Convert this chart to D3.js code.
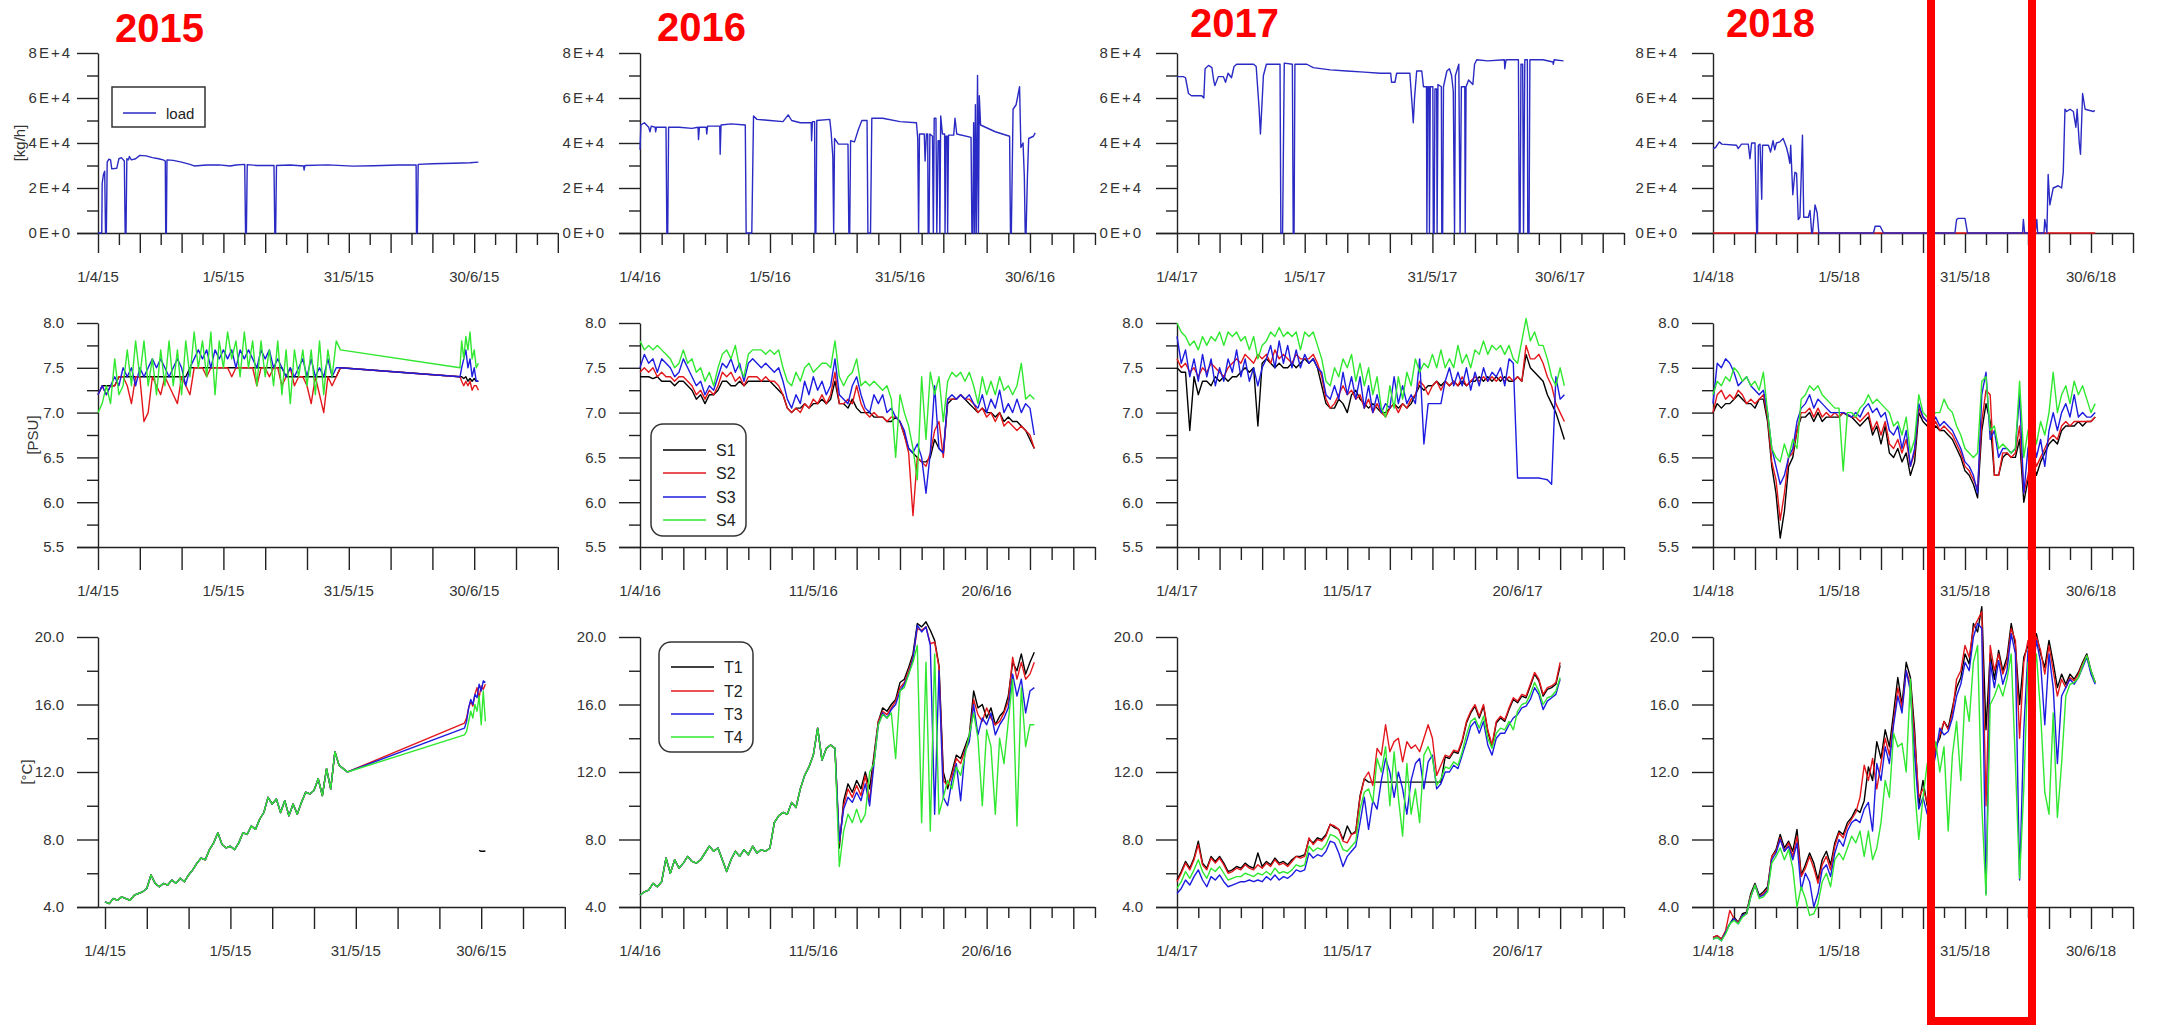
<!DOCTYPE html>
<html>
<head>
<meta charset="utf-8">
<script src="https://cdn.jsdelivr.net/npm/d3@7"></script>
<style>
  body { margin: 0; background: #fff; }
  text { font-family: "Liberation Sans", Arial, sans-serif; }
</style>
</head>
<body>
<script>
/* ---------- data: days counted from 1 April of each year ---------- */

const dailyDays = [0,1,2,3,4,5,6,7,8,9,10,11,12,13,14,15,16,17,18,19,20,21,22,23,24,25,26,27,28,29,
  30,31,32,33,34,35,36,37,38,39,40,41,42,43,44,45,46,47,48,49,50,51,52,53,54,55,56,57,58,59,
  60,61,62,63,64,65,66,67,68,69,70,71,72,73,74,75,76,77,78,79,80,81,82,83,84,85,86,87,88,89,90,91];

const longTicks = [0,10,20,30,40,50,60,70,80,90,100,110];
const shortTicks = [5,15,25,35,45,55,65,75,85,95,105];

const loadTickLabels = ["0E+0","2E+4","4E+4","6E+4","8E+4"];
const labels2015 = ["1/4/15","1/5/15","31/5/15","30/6/15"];
const labels2016 = ["1/4/16","1/5/16","31/5/16","30/6/16"];
const labels2016b = ["1/4/16","11/5/16","20/6/16"];
const labels2017 = ["1/4/17","1/5/17","31/5/17","30/6/17"];
const labels2017b = ["1/4/17","11/5/17","20/6/17"];
const labels2018 = ["1/4/18","1/5/18","31/5/18","30/6/18"];
const monthDays = [0,30,60,90];
const fortyDays = [0,40,80];

/* load [day, kg/h] */
const load2015 = [[0,0],[0.9,0],[1.0,22000],[1.3,26000],[1.6,27500],[1.8,0],[2.0,0],[2.2,31500],[2.6,32800],[3.0,32500],
  [3.3,28500],[4.5,28800],[5.0,33000],[5.6,33500],[6.3,32000],[6.5,0],[6.7,0],[6.9,33000],[7.3,32500],[7.5,34000],
  [8.0,32500],[9.0,33000],[10.0,34500],[11.5,34300],[13,33500],[14.5,33000],[15.6,32500],[16.1,32000],[16.2,0],[16.35,0],
  [16.5,32500],[18,32300],[20,31500],[22,30500],[23,29800],[26,30200],[29,30300],[31.6,29800],[33,30200],[35.1,30500],
  [35.3,0],[35.5,0],[35.7,30400],[38,30000],[42.1,30000],[42.3,0],[42.5,0],[42.7,30000],[46,30200],[49.2,29800],
  [49.3,28000],[49.5,30000],[55,30300],[61,29700],[66,29900],[72,30200],[76.1,30200],[76.2,0],[76.4,0],[76.6,30500],
  [80,30800],[85,31000],[89,31200],[91,31500]];

const load2016 = [[0,37000],[0.2,48000],[1,49000],[2,47000],[2.3,45000],[2.6,47500],[3.5,47000],[3.6,45000],[3.8,47000],[6.0,47000],
  [6.2,0],[6.4,0],[6.6,47000],[9,47000],[12,46500],[13.4,47000],[13.5,41500],[13.7,47000],[15.3,47000],[15.4,44000],
  [15.6,47500],[18.4,47500],[18.5,35000],[18.7,48000],[21,48500],[24.3,48000],[24.5,0],[25.8,0],[26.2,52000],[27,50500],
  [30,50000],[33,49500],[34.2,52500],[35,50000],[37,49000],[39.5,49000],[39.6,41000],[39.8,49500],[40.3,49500],[40.4,0],
  [40.6,0],[40.8,50000],[43.8,50500],[44.1,45000],[44.5,34000],[44.7,0],[44.9,42000],[45.8,39500],[48.0,39500],[48.2,0],
  [48.4,0],[48.6,41000],[49.5,40500],[50.4,46000],[51.2,50000],[52.4,50000],[52.6,0],[53.2,0],[53.5,51000],[56,51000],
  [60,49500],[63.8,49000],[64.1,42000],[64.3,0],[64.5,44000],[65.6,44000],[65.8,32000],[66.1,44000],[66.4,44000],[66.5,0],
  [66.7,0],[66.9,44000],[67.5,43000],[67.7,0],[67.9,51000],[68.3,51000],[68.5,0],[68.8,41000],[69.1,41000],[69.2,0],
  [69.4,52000],[69.8,44000],[70.3,44000],[70.4,0],[70.6,43000],[70.9,43000],[71.0,0],[71.2,43500],[72.4,43500],[72.7,51000],
  [73.1,44000],[76.4,42500],[76.6,0],[76.8,0],[77.0,49000],[77.2,0],[77.4,57000],[77.6,0],[77.9,70000],[78.1,0],
  [78.3,61000],[78.6,48000],[82,45000],[85.3,43000],[85.5,0],[85.7,0],[86.1,55000],[86.8,57000],[87.6,65000],[87.9,38000],
  [88.4,40000],[88.7,25000],[88.9,0],[89.1,0],[89.4,24000],[89.7,42000],[90.8,43000],[91.2,44500]];

const load2017 = [[0,69500],[1.5,69500],[2,69000],[2.7,62000],[3.4,61000],[5.8,61000],[6.3,60000],[6.6,73000],[7.4,74500],[8.2,73500],
  [8.6,68000],[8.9,65500],[9.7,69500],[10.9,69500],[11.4,67000],[12,71000],[12.8,69000],[13.4,74000],[14,75000],[18,75000],
  [18.6,74000],[19.3,55000],[19.6,44000],[19.9,55000],[20.3,70000],[21,75000],[24.2,75000],[24.4,0],[24.8,0],[25.2,75500],
  [27.1,75000],[27.3,0],[27.5,0],[27.7,75000],[30.5,75000],[32,73500],[36,72500],[39.9,72000],[44,71500],[47.7,71000],
  [50.2,71000],[50.4,67000],[51.2,67000],[51.6,71000],[54.7,71000],[55.3,55000],[55.5,49000],[55.8,60000],[56.3,72000],[57.5,72000],
  [57.9,65000],[58.6,65000],[58.7,0],[58.9,65000],[59.2,65000],[59.3,0],[59.5,65000],[60.1,65000],[60.2,0],[60.4,0],
  [60.6,64000],[61.0,64000],[61.1,0],[61.3,66000],[62.1,65000],[62.2,0],[62.4,0],[62.6,65000],[63.4,72000],[64.0,73000],
  [64.5,70000],[64.9,63000],[65.2,0],[65.4,70000],[66.2,75000],[66.5,0],[66.8,65000],[67.6,65000],[67.7,0],[67.9,65000],
  [68.5,68000],[69.5,66000],[69.9,75000],[70.4,77000],[73,76500],[76.9,77000],[77.0,73000],[77.3,77000],[80.2,77000],[80.4,0],
  [80.6,0],[80.8,75000],[81.2,75000],[81.4,0],[81.7,77000],[82.3,77000],[82.4,0],[82.7,0],[82.9,77000],[86,77000],
  [88.3,76000],[88.4,75000],[88.6,77000],[90.8,76500]];

const load2018 = [[0,37500],[0.6,38000],[1.5,40500],[2.1,39500],[5.6,39000],[6.0,37500],[6.8,39500],[8.4,39500],[8.8,33000],[9.2,40000],
  [10.0,40000],[10.4,0],[10.6,0],[10.8,39000],[11.2,39500],[11.6,15000],[11.8,39000],[13.2,39000],[13.7,36000],[14.3,41000],
  [14.7,37000],[15.1,40000],[15.9,40500],[16.7,42000],[17.5,38000],[17.9,35000],[18.3,31000],[18.5,39000],[19.0,17000],[19.5,27000],
  [19.9,26500],[20.3,6000],[20.7,7000],[21.3,43500],[21.6,7000],[22.7,7000],[23.1,10000],[23.5,0],[23.7,0],[24.3,12500],
  [24.8,9000],[25.2,0],[38.2,0],[38.6,3000],[39.8,3000],[40.6,0],[57.6,0],[58.0,6000],[58.4,6500],[60.0,6500],
  [60.6,0],[73.7,0],[73.9,6000],[74.2,0],[76.7,0],[77.1,6000],[77.3,0],[78.8,0],[79.0,6000],[79.5,0],
  [79.8,26000],[80.2,12500],[81.0,20000],[82.2,21000],[83.0,20000],[83.4,27000],[83.8,55000],[84.2,54000],[85.0,55000],[85.8,54000],
  [86.4,47000],[86.7,55000],[87.2,40000],[87.5,35000],[88.0,62000],[88.6,55000],[90.6,54000],[90.9,54500]];
const loadZero2018 = [[0,0],[91,0]];

/* 2015 salinity: days 0-58, gap, then 86.6-91 */
const psuDays2015 = dailyDays.slice(0, 59).concat([86.6,87,87.5,88,88.5,89,89.5,90,90.5,91]);
const s1_2015 = [7.2,7.3,7.3,7.3,7.3,7.4,7.4,7.4,7.4,7.4, 7.4,7.4,7.4,7.4,7.4,7.4,7.4,7.4,7.4,7.4,
  7.4,7.4,7.5,7.5,7.5,7.5,7.5,7.5,7.5,7.5, 7.5,7.5,7.5,7.5,7.5,7.5,7.5,7.5,7.5,7.5,
  7.5,7.5,7.5,7.5,7.5,7.4,7.4,7.4,7.4,7.4, 7.4,7.4,7.4,7.4,7.4,7.4,7.4,7.4,7.5,
  7.4,7.4,7.38,7.4,7.35,7.38,7.35,7.38,7.35,7.35];
const s2_2015 = [7.2,7.3,7.2,7.3,7.3,7.4,7.4,7.3,7.1,7.4, 7.4,6.9,7.0,7.4,7.3,7.2,7.4,7.3,7.2,7.1,
  7.4,7.3,7.2,7.5,7.5,7.5,7.4,7.5,7.5,7.5, 7.5,7.5,7.4,7.5,7.5,7.5,7.5,7.5,7.3,7.5,
  7.5,7.4,7.5,7.5,7.3,7.4,7.5,7.3,7.4,7.4, 7.3,7.1,7.4,7.2,7.0,7.4,7.3,7.4,7.5,
  7.4,7.35,7.3,7.35,7.3,7.35,7.25,7.3,7.3,7.25];
const s3_2015 = [7.2,7.3,7.2,7.3,7.4,7.3,7.5,7.4,7.5,7.3, 7.5,7.4,7.5,7.6,7.5,7.6,7.5,7.4,7.5,7.6,
  7.5,7.3,7.5,7.6,7.7,7.6,7.7,7.5,7.7,7.6, 7.7,7.6,7.7,7.5,7.7,7.6,7.7,7.6,7.5,7.7,
  7.6,7.7,7.5,7.6,7.5,7.4,7.5,7.4,7.5,7.6, 7.4,7.6,7.4,7.5,7.4,7.6,7.4,7.5,7.5,
  7.4,7.5,7.6,7.7,7.5,7.6,7.4,7.5,7.35,7.35];
const s4_2015 = [7.0,7.1,7.3,7.1,7.6,7.2,7.3,7.7,7.3,7.8, 7.4,7.8,7.3,7.6,7.2,7.7,7.3,7.8,7.3,7.7,
  7.2,7.8,7.4,7.9,7.5,7.8,7.4,7.9,7.2,7.8, 7.5,7.9,7.6,7.8,7.4,7.9,7.5,7.8,7.3,7.8,
  7.4,7.7,7.3,7.8,7.2,7.7,7.1,7.7,7.4,7.7, 7.3,7.7,7.2,7.8,7.2,7.7,7.4,7.8,7.7,
  7.5,7.8,7.6,7.85,7.7,7.9,7.6,7.7,7.5,7.55];

/* 2015 temperature: shared trace until day 58, then separate ends */
const tDays2015 = dailyDays.slice(0, 59).concat([86,86.5,87,87.5,88,88.5,89,89.5,90,90.5,91]);
const tShared2015 = [4.3,4.2,4.5,4.4,4.6,4.5,4.4,4.7,4.8,4.9, 5.1,5.9,5.4,5.2,5.4,5.3,5.6,5.4,5.7,5.5,
  5.9,6.2,6.6,6.9,6.8,7.4,7.8,8.4,7.7,7.5, 7.6,7.4,7.8,8.4,8.3,8.8,8.6,9.2,9.6,10.5,
  10.1,10.4,9.6,10.3,9.4,10.1,9.5,10.2,10.8,10.7, 10.9,11.6,10.6,12.2,11.0,13.2,12.4,12.2,12.0];
const t1End2015 = [null,null,null,null,null,null,null,7.35,7.3,7.3,7.32];
const t2End2015 = [14.9,15.2,15.8,16.2,15.9,16.6,17.0,16.4,17.1,16.9,17.2];
const t3End2015 = [14.6,15.0,15.8,16.3,16.0,16.6,16.4,17.2,16.8,17.4,17.3];
const t4End2015 = [14.2,14.4,15.0,15.6,15.2,16.0,15.6,16.5,14.8,16.8,15.0];

/* 2016 salinity, daily */
const s1_2016 = [7.4,7.4,7.4,7.38,7.4,7.35,7.35,7.35,7.3,7.35, 7.35,7.3,7.25,7.15,7.2,7.1,7.2,7.2,7.25,7.35,
  7.35,7.3,7.3,7.35,7.3,7.35,7.35,7.35,7.35,7.35, 7.35,7.3,7.25,7.2,7.05,7.0,7.05,7.05,7.1,7.05,
  7.1,7.1,7.15,7.1,7.15,7.35,7.1,7.1,7.05,7.15, 7.05,7.0,7.0,7.0,6.95,6.95,6.95,6.9,6.9,
  6.95,6.9,6.75,6.6,6.55,6.5,6.45,6.45,6.5,6.7,6.6,6.55,7.1,7.15,
  7.15,7.2,7.15,7.1,7.05,7.0,7.05,7.0,7.0,6.95,7.0,6.9,6.95,6.9,6.9,6.85,6.8,6.7,6.6];
const s2_2016 = [7.45,7.5,7.45,7.5,7.4,7.45,7.4,7.4,7.35,7.4, 7.4,7.35,7.3,7.2,7.25,7.15,7.25,7.2,7.3,7.45,
  7.4,7.45,7.35,7.4,7.3,7.4,7.4,7.4,7.35,7.4, 7.35,7.35,7.3,7.2,7.05,7.0,7.05,7.0,7.1,7.05,
  7.15,7.1,7.2,7.1,7.2,7.45,7.1,7.1,7.15,7.1, 7.3,7.1,7.0,6.95,7.0,6.95,6.95,6.9,6.95,
  6.95,6.9,6.75,6.55,5.85,6.5,6.45,6.4,6.55,6.8,6.9,6.5,7.15,7.15,
  7.15,7.2,7.15,7.15,7.1,7.0,7.05,6.95,7.0,6.9,7.0,6.85,6.9,6.85,6.8,6.85,6.8,6.75,6.6];
const s3_2016 = [7.5,7.65,7.55,7.6,7.45,7.6,7.55,7.5,7.4,7.45, 7.6,7.5,7.4,7.3,7.35,7.2,7.3,7.25,7.4,7.55,
  7.5,7.6,7.45,7.55,7.35,7.55,7.6,7.55,7.5,7.55, 7.5,7.45,7.5,7.35,7.15,7.05,7.2,7.1,7.35,7.2,
  7.4,7.25,7.35,7.2,7.3,7.6,7.2,7.15,7.1,7.3, 7.4,7.2,7.05,7.0,7.2,7.1,7.2,7.0,7.05,
  6.95,6.9,6.8,6.6,6.55,6.65,6.5,6.1,6.55,7.3,6.6,6.55,7.15,7.2,
  7.15,7.2,7.15,7.2,7.1,7.05,7.2,7.0,7.15,7.05,7.25,7.0,7.1,7.0,7.15,7.0,7.1,7.05,6.75];
const s4_2016 = [7.8,7.7,7.75,7.7,7.75,7.7,7.65,7.6,7.5,7.55, 7.7,7.55,7.6,7.45,7.5,7.35,7.45,7.3,7.5,7.65,
  7.7,7.6,7.75,7.5,7.4,7.65,7.7,7.7,7.7,7.65, 7.7,7.65,7.7,7.5,7.35,7.3,7.45,7.35,7.5,7.55,
  7.45,7.5,7.55,7.55,7.5,7.8,7.4,7.3,7.4,7.45, 7.6,7.3,7.35,7.3,7.35,7.3,7.25,7.3,7.15,
  6.5,7.2,7.0,6.85,6.6,6.25,7.4,6.7,7.45,7.2,7.4,6.9,7.35,7.45,
  7.4,7.45,7.35,7.45,7.3,7.1,7.4,7.2,7.35,7.2,7.4,7.25,7.3,7.2,7.3,7.55,7.15,7.2,7.15];

/* 2016 temperature: shared trace days 0-45, then separate days 46-91 */
const tShared2016 = [4.7,4.9,5.0,5.4,5.2,5.5,6.9,6.0,6.8,6.3, 6.6,7.0,6.7,6.6,6.8,7.2,7.6,7.3,7.5,6.8,
  6.1,6.8,7.3,7.0,7.4,7.1,7.6,7.2,7.4,7.3, 7.5,9.0,9.4,9.6,9.5,10.2,9.9,11.0,11.8,12.3,
  13.0,14.6,12.7,13.4,13.6,13.4];
const t1End2016 = [7.5,10.3,11.3,10.8,11.5,11.0,12.0,11.0,13.0,15.0, 15.8,15.6,16.0,16.3,17.3,17.5,18.2,19.0,20.8,20.6,
  20.9,20.4,19.8,18.3,12.0,11.0,12.0,13.0,12.8,13.5, 14.2,16.8,15.8,16.0,15.2,15.8,14.8,15.3,15.6,16.5,
  18.5,18.0,19.0,17.8,18.5,19.1];
const t2End2016 = [7.8,10.0,11.0,10.5,11.2,10.6,11.8,10.3,12.8,15.0, 15.6,15.4,15.8,16.2,17.0,17.3,18.0,18.8,20.5,20.4,
  20.6,19.6,19.7,18.2,11.5,11.2,11.8,12.8,12.5,13.3, 14.0,16.3,15.4,15.0,15.8,15.2,14.8,15.0,15.5,16.2,
  18.8,17.5,18.5,17.5,17.8,18.5];
const t3End2016 = [7.9,9.8,10.5,10.2,10.8,10.3,11.3,10.0,12.5,14.8, 15.5,15.2,15.7,16.0,16.8,17.2,17.8,18.7,20.7,20.3,
  20.6,19.5,9.5,18.0,10.5,10.0,11.5,12.5,10.3,13.2, 13.8,16.0,14.2,15.2,14.8,15.5,14.2,14.8,15.2,15.8,
  17.8,16.5,17.5,15.5,16.8,17.0];
const t4End2016 = [6.4,8.5,9.5,9.0,9.8,9.0,9.5,12.0,12.5,14.8, 15.4,15.2,15.5,12.8,16.8,17.0,17.8,18.5,19.5,9.0,
  18.5,8.5,19.0,9.5,10.5,11.5,11.0,12.3,11.8,13.0, 14.2,15.5,14.0,10.0,14.5,13.5,9.5,14.0,12.5,15.0,
  17.5,8.8,17.0,13.5,14.8,14.8];

/* 2017 salinity, daily */
const s1_2017 = [7.5,7.45,7.45,6.8,7.4,7.2,7.35,7.35,7.3,7.4, 7.35,7.4,7.35,7.4,7.4,7.45,7.5,7.45,7.5,6.85,
  7.55,7.6,7.55,7.5,7.55,7.5,7.5,7.55,7.5,7.55, 7.6,7.55,7.6,7.5,7.3,7.1,7.05,7.05,7.15,7.1,
  7.0,7.2,7.25,7.15,7.1,7.05,7.1,7.05,7.0,7.0, 7.05,7.1,7.05,7.1,7.05,7.1,7.2,7.3,7.25,7.3,
  7.3,7.35,7.3,7.35,7.3,7.35,7.3,7.35,7.3,7.35, 7.35,7.4,7.35,7.4,7.35,7.4,7.35,7.4,7.35,7.35,
  7.4,7.35,7.65,7.5,7.45,7.4,7.35,7.2,7.1,7.0,6.85,6.7];
const s2_2017 = [7.6,7.5,7.55,7.45,7.5,7.4,7.5,7.45,7.55,7.5, 7.45,7.4,7.5,7.55,7.6,7.55,7.65,7.6,7.55,7.65,
  7.6,7.65,7.55,7.7,7.6,7.65,7.6,7.55,7.65,7.6, 7.6,7.6,7.65,7.55,7.4,7.15,7.05,7.1,7.2,7.3,
  7.2,7.25,7.15,7.2,7.05,7.15,7.0,7.1,7.0,6.95, 7.05,7.1,7.0,7.1,7.05,7.15,7.2,7.35,7.3,7.2,
  7.3,7.35,7.25,7.35,7.3,7.35,7.3,7.4,7.3,7.35, 7.4,7.35,7.4,7.35,7.4,7.35,7.4,7.35,7.4,7.35,
  7.4,7.35,7.75,7.6,7.6,7.65,7.55,7.4,7.3,7.1,7.0,6.9];
const s3_2017 = [7.85,7.55,7.7,7.4,7.6,7.35,7.65,7.4,7.6,7.3, 7.5,7.35,7.6,7.45,7.7,7.4,7.6,7.35,7.5,7.3,
  7.5,7.6,7.75,7.5,7.8,7.55,7.75,7.5,7.7,7.5, 7.65,7.55,7.6,7.5,7.45,7.2,7.15,7.3,7.15,7.45,
  7.2,7.4,7.15,7.4,7.05,7.3,7.0,7.2,7.0,7.1, 7.05,7.4,7.1,7.3,7.1,7.2,7.1,7.6,6.65,7.1,
  7.1,7.1,7.1,7.35,7.5,7.3,7.45,7.3,7.5,7.25, 7.45,7.3,7.5,7.35,7.45,7.4,7.5,7.3,7.6,7.55,
  6.27,6.27,6.27,6.27,6.27,6.27,6.26,6.25,6.2,7.4,7.15,7.2];
const s4_2017 = [8.0,7.9,7.85,7.75,7.8,7.7,7.85,7.75,7.85,7.8, 7.9,7.75,7.9,7.85,7.9,7.8,7.85,7.7,7.85,7.6,
  7.75,7.8,7.9,7.85,7.95,7.85,7.9,7.85,7.9,7.7, 7.9,7.85,7.9,7.75,7.6,7.35,7.3,7.5,7.4,7.6,
  7.5,7.65,7.35,7.55,7.3,7.5,7.2,7.4,7.05,6.95, 7.3,7.05,7.4,7.15,7.45,7.3,7.6,7.45,7.55,7.5,
  7.65,7.5,7.7,7.5,7.6,7.5,7.75,7.55,7.65,7.5, 7.7,7.65,7.8,7.65,7.75,7.7,7.75,7.65,7.75,7.6,
  7.55,7.8,8.05,7.8,7.9,7.75,7.75,7.6,7.4,7.3,7.5,7.3];

/* 2017 temperature, daily to day 90 */
const t1_2017 = [5.6,6.1,6.7,6.3,6.9,7.9,6.6,6.3,7.0,6.7, 7.0,6.6,6.1,6.2,6.4,6.3,6.6,6.4,6.3,7.2,
  6.4,6.7,6.5,6.9,6.6,6.7,6.5,6.8,7.0,7.0, 7.1,8.0,7.8,8.1,8.0,8.3,8.9,8.7,8.6,8.0,
  8.8,8.3,8.5,10.6,11.6,11.4,11.4,11.4,11.4,11.4, 11.4,11.4,11.4,11.4,11.4,11.4,11.4,11.4,11.4,11.4,
  11.4,11.4,11.4,12.9,12.8,13.2,13.1,13.8,14.9,15.5, 15.9,15.2,15.9,14.4,13.5,14.9,15.2,15.0,15.7,16.3,
  16.1,16.5,16.4,17.1,17.8,17.4,16.5,16.9,17.0,17.2,18.3];
const t2_2017 = [5.5,6.0,6.6,6.2,6.8,7.7,6.5,6.2,6.9,6.6, 6.9,6.5,6.0,6.1,6.3,6.2,6.5,6.3,6.2,6.5,
  6.3,6.6,6.4,6.8,6.5,6.6,6.4,6.7,7.0,6.9, 7.0,8.1,7.7,8.0,7.9,8.2,8.9,8.8,8.6,7.9,
  7.8,8.3,8.4,10.5,11.6,12.0,11.2,13.4,13.0,14.8, 13.2,13.8,14.0,12.6,13.8,13.4,13.6,13.2,14.0,14.8,
  14.0,11.8,12.4,13.0,12.9,13.3,13.2,13.9,15.0,15.6, 16.0,15.3,16.0,14.5,13.6,15.0,15.3,15.1,15.8,16.4,
  16.2,16.6,16.5,17.2,17.9,17.5,16.6,17.0,17.1,17.3,18.5];
const t3_2017 = [4.8,5.1,5.6,5.3,5.8,6.2,5.6,5.2,5.8,5.6, 5.9,5.5,5.2,5.3,5.4,5.5,5.5,5.6,5.5,5.6,
  5.5,5.8,5.6,5.9,5.6,5.8,5.7,5.9,6.2,6.1, 6.2,7.2,6.9,7.1,7.0,7.3,7.9,7.8,7.2,6.4,
  7.0,7.3,7.6,9.0,10.5,8.6,10.3,9.8,11.5,12.8, 12.0,10.5,12.0,11.0,9.5,11.5,12.5,12.8,11.0,12.6,
  13.0,11.0,11.3,12.0,12.0,12.4,12.2,13.0,13.8,14.7, 15.0,14.3,15.0,13.6,13.0,14.0,14.3,14.3,14.8,15.2,
  15.4,15.8,15.9,16.3,17.0,16.6,15.7,16.2,16.4,16.6,17.5];
const t4_2017 = [5.1,5.5,6.1,5.7,6.2,6.8,6.1,5.7,6.3,6.1, 6.4,6.0,5.6,5.7,5.8,5.8,6.0,5.9,5.8,6.0,
  5.9,6.1,5.9,6.3,6.0,6.1,6.0,6.2,6.5,6.4, 6.5,7.6,7.3,7.5,7.4,7.7,8.3,8.2,8.0,7.4,
  7.3,7.6,7.9,9.8,10.8,11.0,10.2,12.8,12.0,13.5, 10.0,13.2,10.5,8.2,12.5,9.5,11.0,9.0,13.0,13.5,
  12.8,11.2,11.6,12.3,12.2,12.6,12.4,13.2,14.2,15.0, 15.2,14.6,15.3,14.0,13.4,14.3,14.6,14.5,15.0,14.5,
  15.6,16.0,16.1,16.6,17.3,16.8,16.0,16.4,16.5,16.8,17.6];

/* 2018 salinity, daily */
const s1_2018 = [7.0,7.1,7.05,7.1,7.1,7.15,7.2,7.15,7.1,7.1,7.05,7.15,7.15,
  6.9,6.4,6.1,5.6,5.9,6.4,6.5,6.8,6.95,
  6.95,7.0,6.9,7.0,6.9,6.95,6.95,6.95,6.95,7.0,6.97,6.95,6.9,6.85,6.9,6.95,6.75,6.85,6.65,6.85,6.55,6.5,6.6,6.45,6.55,6.3,6.45,7.0,6.9,
  6.85,6.8,6.85,6.8,6.8,6.75,6.7,6.6,6.5,6.35,6.3,6.2,6.05,6.8,7.1,6.9,6.3,6.3,6.5,6.55,6.5,6.5,6.7,6.0,6.25,6.5,6.3,6.45,6.55,6.65,6.7,6.65,6.8,6.85,6.85,6.85,6.9,6.85,6.9,6.9,6.95];
const s2_2018 = [7.0,7.2,7.25,7.15,7.2,7.15,7.25,7.2,7.1,7.15,7.1,7.15,7.2,
  6.95,6.45,6.25,5.8,6.1,6.5,6.55,6.8,7.0,
  7.0,7.05,6.95,7.05,6.95,7.0,6.95,7.0,6.95,7.0,6.98,6.95,6.95,6.9,6.95,7.0,6.8,6.9,6.75,6.9,6.65,6.6,6.7,6.55,6.7,6.4,6.55,7.05,6.95,
  6.9,6.8,6.9,6.8,6.85,6.8,6.75,6.65,6.55,6.4,6.35,6.25,6.15,6.9,7.25,7.2,6.3,6.3,6.55,6.55,6.5,6.55,6.85,6.1,6.3,6.6,6.4,6.5,6.6,6.7,6.75,6.7,6.85,6.9,6.85,6.9,6.9,6.9,6.9,6.9,6.95];
const s3_2018 = [7.1,7.55,7.5,7.6,7.55,7.45,7.3,7.35,7.4,7.3,7.25,7.2,7.25,
  7.0,6.6,6.4,6.2,6.3,6.5,6.6,6.9,7.05,
  7.1,7.2,7.05,7.15,7.1,7.05,7.0,7.0,7.0,7.0,6.98,6.95,7.0,6.95,7.05,7.1,7.0,7.05,6.95,7.0,6.8,6.75,6.85,6.6,6.8,6.4,6.6,7.1,6.95,
  6.9,6.85,6.95,6.85,6.9,6.85,6.8,6.7,6.6,6.45,6.4,6.3,6.1,7.2,7.45,6.7,6.8,6.5,6.6,6.6,6.55,6.6,7.2,6.1,6.6,6.8,6.5,6.7,6.4,6.8,7.0,6.8,7.0,7.1,6.95,7.2,6.95,7.0,6.95,6.95,7.0];
const s4_2018 = [7.2,7.35,7.3,7.4,7.35,7.5,7.45,7.35,7.4,7.3,7.35,7.25,7.45,
  7.0,6.6,6.5,6.45,6.65,6.5,6.7,6.6,7.15,
  7.2,7.3,7.25,7.3,7.2,7.15,7.1,7.05,7.05,6.35,7.0,7.0,6.95,7.05,7.1,7.2,7.1,7.15,7.1,7.05,7.0,6.85,6.9,6.75,6.95,6.55,6.7,7.2,7.0,
  6.95,6.95,7.0,7.0,7.15,7.05,7.0,6.85,6.75,6.6,6.55,6.5,6.55,7.35,7.4,6.8,6.85,6.6,6.65,6.6,6.55,6.6,7.35,6.5,6.8,6.9,6.65,6.9,6.75,7.0,7.45,7.0,7.2,7.3,7.1,7.35,7.2,7.3,7.15,7.0,7.1];

/* 2018 temperature, daily */
const t1_2018 = [2.2,2.3,2.1,2.5,3.0,3.4,3.1,3.6,3.7,4.8, 5.4,4.7,4.9,5.2,7.0,7.4,8.3,7.5,7.9,7.3,
  8.6,5.9,6.5,7.2,6.6,5.6,6.8,7.3,6.5,7.8, 8.5,8.3,9.0,9.3,9.8,9.6,10.3,12.3,11.5,13.8,
  12.8,14.5,13.5,15.5,17.6,16.0,18.5,17.6,14.5,10.0, 11.5,10.0,12.0,13.5,14.0,15.0,14.6,15.8,17.0,17.6,
  19.0,18.4,20.8,20.3,21.8,14.5,19.0,17.5,19.2,18.0, 18.8,20.8,19.5,16.0,18.8,19.5,18.5,20.2,19.0,18.2,
  19.8,18.5,17.0,17.8,17.2,17.8,17.5,17.9,18.5,19.0,18.0,17.3];
const t2_2018 = [2.2,2.3,2.1,2.6,3.8,3.3,3.1,3.5,3.6,4.7, 5.3,4.6,4.8,5.1,7.0,7.3,8.1,7.3,7.8,7.0,
  8.2,5.8,6.3,7.0,6.3,5.4,6.5,7.0,6.2,7.6, 8.4,8.1,8.8,9.2,9.6,10.5,12.4,11.5,12.8,11.0,
  12.5,14.0,13.0,15.0,17.0,15.8,18.0,17.2,14.0,10.5, 11.0,10.2,11.5,13.5,14.2,15.0,14.5,15.5,17.5,18.0,
  19.5,18.8,20.5,21.0,21.5,10.0,19.5,18.0,19.0,17.8, 18.5,20.5,19.8,14.0,18.5,19.8,18.0,20.0,19.2,17.8,
  19.5,18.0,16.5,17.5,17.0,17.6,17.4,17.8,18.4,18.9,17.9,17.3];
const t3_2018 = [2.1,2.2,2.0,2.5,3.0,3.3,3.0,3.5,3.6,4.6, 5.3,4.6,4.7,5.0,6.8,7.2,8.0,7.3,7.6,6.8,
  7.8,5.0,6.0,5.5,4.0,4.8,6.2,6.5,5.8,7.2, 8.0,7.6,8.5,9.0,9.2,9.0,9.8,10.2,8.5,12.5,
  11.5,13.5,12.5,14.8,16.5,15.5,18.0,16.8,13.0,9.8, 10.5,9.5,11.8,13.0,14.6,14.2,14.4,15.2,16.5,17.2,
  18.5,18.0,20.0,20.8,20.5,4.8,18.5,17.0,18.6,17.2, 18.0,20.2,19.0,5.6,14.5,19.2,17.5,19.8,18.5,14.8,
  19.0,17.0,12.5,16.5,17.0,17.5,17.2,17.6,18.2,18.8,17.8,17.2];
const t4_2018 = [2.1,2.2,2.0,2.4,3.0,3.2,3.0,3.4,3.6,4.6, 5.3,4.5,4.6,4.9,6.6,7.0,7.5,6.8,7.4,6.3,
  4.0,5.2,4.5,3.5,3.6,4.2,5.5,6.0,5.2,6.8, 7.2,6.8,7.5,8.2,7.8,8.5,7.0,8.5,6.8,7.5,
  9.0,11.5,10.5,14.3,13.5,13.7,12.0,17.5,11.0,8.0, 10.5,12.5,12.2,13.8,12.0,13.5,8.5,13.0,15.0,11.5,
  16.5,15.0,18.5,19.5,10.0,4.7,16.0,16.5,17.2,16.5, 17.5,19.0,12.5,5.7,11.0,18.5,16.8,19.0,15.5,10.8,
  9.5,15.5,9.3,12.5,16.5,17.2,17.3,17.6,18.3,18.9,18.0,17.3];

/* ---------- layout ---------- */

const lineColors = ["#000000", "#e3171b", "#1c1ce0", "#2fe82f"];
const loadColor = "#2a2ac4";
const axisColor = "#222";

const columns = [
  { year: "2015", axisX: 98,   pxPerDay: 4.18,  endDay: 110, titleX: 115,  titleY: 42 },
  { year: "2016", axisX: 640,  pxPerDay: 4.333, endDay: 105, titleX: 657,  titleY: 41 },
  { year: "2017", axisX: 1177, pxPerDay: 4.257, endDay: 105, titleX: 1190, titleY: 37 },
  { year: "2018", axisX: 1713, pxPerDay: 4.2,   endDay: 100, titleX: 1726, titleY: 37 }
];

const rows = {
  load: { top: 53, bottom: 233, domain: [0, 80000], major: [0, 20000, 40000, 60000, 80000],
          minor: [10000, 30000, 50000, 70000], longTick: 20, shortTick: 12,
          format: (d, i) => loadTickLabels[i] },
  psu:  { top: 323, bottom: 547, domain: [5.5, 8.0], major: [5.5, 6.0, 6.5, 7.0, 7.5, 8.0],
          minor: [5.75, 6.25, 6.75, 7.25, 7.75], longTick: 23, shortTick: 13,
          format: d3.format(".1f") },
  temp: { top: 637, bottom: 907, domain: [4, 20], major: [4, 8, 12, 16, 20],
          minor: [6, 10, 14, 18], longTick: 22, shortTick: 11,
          format: d3.format(".1f") }
};

function pairs(days, values) {
  return d3.zip(days, values);
}

function fourSeries(days, a, b, c, d) {
  return [a, b, c, d].map((v, i) => ({ data: pairs(days, v), color: lineColors[i] }));
}

const panels = [
  /* 2015 */
  { col: 0, row: "load", every5: true, labels: labels2015, labelDays: monthDays, labelPad: 5,
    series: [{ data: load2015, color: loadColor }] },
  { col: 0, row: "psu", every5: false, labels: labels2015, labelDays: monthDays,
    series: fourSeries(psuDays2015, s1_2015, s2_2015, s3_2015, s4_2015) },
  { col: 0, row: "temp", every5: false, originX: 105, labels: labels2015, labelDays: monthDays,
    series: fourSeries(tDays2015, tShared2015.concat(t1End2015), tShared2015.concat(t2End2015),
                       tShared2015.concat(t3End2015), tShared2015.concat(t4End2015)) },
  /* 2016 */
  { col: 1, row: "load", every5: true, labels: labels2016, labelDays: monthDays,
    series: [{ data: load2016, color: loadColor }] },
  { col: 1, row: "psu", every5: true, labels: labels2016b, labelDays: fortyDays,
    series: fourSeries(dailyDays, s1_2016, s2_2016, s3_2016, s4_2016) },
  { col: 1, row: "temp", every5: true, labels: labels2016b, labelDays: fortyDays,
    series: fourSeries(dailyDays, tShared2016.concat(t1End2016), tShared2016.concat(t2End2016),
                       tShared2016.concat(t3End2016), tShared2016.concat(t4End2016)) },
  /* 2017 */
  { col: 2, row: "load", every5: true, labels: labels2017, labelDays: monthDays,
    series: [{ data: load2017, color: loadColor }] },
  { col: 2, row: "psu", every5: true, labels: labels2017b, labelDays: fortyDays,
    series: fourSeries(dailyDays, s1_2017, s2_2017, s3_2017, s4_2017) },
  { col: 2, row: "temp", every5: true, labels: labels2017b, labelDays: fortyDays,
    series: fourSeries(dailyDays.slice(0, 91), t1_2017, t2_2017, t3_2017, t4_2017) },
  /* 2018 */
  { col: 3, row: "load", every5: true, labels: labels2018, labelDays: monthDays,
    series: [{ data: loadZero2018, color: "#e3171b" }, { data: load2018, color: loadColor }] },
  { col: 3, row: "psu", every5: true, labels: labels2018, labelDays: monthDays,
    series: fourSeries(dailyDays, s1_2018, s2_2018, s3_2018, s4_2018) },
  { col: 3, row: "temp", every5: true, labels: labels2018, labelDays: monthDays,
    series: fourSeries(dailyDays, t1_2018, t2_2018, t3_2018, t4_2018) }
];

const svg = d3.select("body").append("svg")
  .attr("width", 2177)
  .attr("height", 1025)
  .style("display", "block");

function styleAxis(g) {
  g.attr("font-family", null).attr("font-size", null);
  g.selectAll("line, path").attr("stroke", axisColor).attr("stroke-width", 1.4);
  g.selectAll("text").style("font-size", "15px").attr("fill", "#333");
}

/**
 * Draws one small panel: axes, ticks, date labels and lines
 */
function drawPanel(p) {
  const col = columns[p.col];
  const row = rows[p.row];
  const originX = p.originX || col.axisX;

  const x = d3.scaleLinear()
    .domain([0, col.endDay])
    .range([originX, originX + col.endDay * col.pxPerDay]);
  const y = d3.scaleLinear()
    .domain(row.domain)
    .range([row.bottom, row.top]);

  const g = svg.append("g").attr("class", "panel");

  /* y axis with labelled majors */
  g.append("g")
    .attr("class", "yAxis")
    .attr("transform", "translate(" + col.axisX + ",0)")
    .call(d3.axisLeft(y)
      .tickValues(row.major)
      .tickSize(21)
      .tickSizeOuter(0)
      .tickPadding(p.labelPad || 13)
      .tickFormat(row.format))
    .call(styleAxis)
    .call(g => g.selectAll("text").style("letter-spacing", p.row === "load" ? "2px" : null));

  /* y minor ticks */
  g.append("g")
    .attr("transform", "translate(" + col.axisX + ",0)")
    .call(d3.axisLeft(y).tickValues(row.minor).tickSize(11).tickFormat(""))
    .call(g => g.select(".domain").remove())
    .call(styleAxis);

  /* x axis line, starting under the y ticks */
  g.append("line")
    .attr("x1", col.axisX - 21)
    .attr("x2", x(col.endDay))
    .attr("y1", row.bottom + 0.5)
    .attr("y2", row.bottom + 0.5)
    .attr("stroke", axisColor)
    .attr("stroke-width", 1.4);

  g.append("g")
    .attr("transform", "translate(0," + row.bottom + ")")
    .call(d3.axisBottom(x)
      .tickValues(longTicks.filter(d => d <= col.endDay))
      .tickSize(row.longTick)
      .tickFormat(""))
    .call(g => g.select(".domain").remove())
    .call(styleAxis);

  if (p.every5) {
    g.append("g")
      .attr("transform", "translate(0," + row.bottom + ")")
      .call(d3.axisBottom(x)
        .tickValues(shortTicks.filter(d => d <= col.endDay))
        .tickSize(row.shortTick)
        .tickFormat(""))
      .call(g => g.select(".domain").remove())
      .call(styleAxis);
  }

  /* date labels */
  g.selectAll(".dateLabel")
    .data(p.labelDays)
    .enter()
    .append("text")
    .attr("class", "dateLabel")
    .attr("x", d => x(d))
    .attr("y", row.bottom + 49)
    .attr("text-anchor", "middle")
    .style("font-size", "15px")
    .attr("fill", "#333")
    .text((d, i) => p.labels[i]);

  /* data lines */
  const line = d3.line()
    .defined(d => d[1] != null)
    .x(d => x(d[0]))
    .y(d => y(d[1]));

  p.series.forEach(s => {
    g.append("path")
      .datum(s.data)
      .attr("class", "lines")
      .attr("d", line)
      .attr("fill", "none")
      .attr("stroke", s.color)
      .attr("stroke-width", 1.4)
      .attr("stroke-linejoin", "round");
  });
}

panels.forEach(drawPanel);

/* unit labels on the first column */
const unitLabels = [
  { text: "[kg/h]", x: 19, y: 143 },
  { text: "[PSU]", x: 32, y: 435 },
  { text: "[\u00B0C]", x: 26, y: 772 }
];
svg.selectAll(".unitLabel")
  .data(unitLabels)
  .enter()
  .append("text")
  .attr("class", "unitLabel")
  .attr("transform", d => "translate(" + d.x + "," + d.y + ") rotate(-90)")
  .attr("text-anchor", "middle")
  .attr("dominant-baseline", "central")
  .style("font-size", "15px")
  .attr("fill", "#333")
  .text(d => d.text);

/* legends */
function drawLegend(box, entries) {
  const g = svg.append("g").attr("class", "legend");
  g.append("rect")
    .attr("x", box.x).attr("y", box.y)
    .attr("width", box.w).attr("height", box.h)
    .attr("rx", box.r).attr("ry", box.r)
    .attr("fill", "#fff")
    .attr("stroke", "#333")
    .attr("stroke-width", 1.5);
  entries.forEach((e, i) => {
    const yy = box.rowY[i];
    g.append("line")
      .attr("x1", box.lineX1).attr("x2", box.lineX2)
      .attr("y1", yy).attr("y2", yy)
      .attr("stroke", e.color)
      .attr("stroke-width", 1.6);
    g.append("text")
      .attr("x", box.textX).attr("y", yy)
      .attr("dominant-baseline", "central")
      .style("font-size", box.fontSize)
      .attr("fill", "#222")
      .text(e.label);
  });
}

drawLegend({ x: 112, y: 87, w: 93, h: 40, r: 0, lineX1: 123, lineX2: 156, textX: 166,
             rowY: [113], fontSize: "15px" },
           [{ label: "load", color: loadColor }]);
drawLegend({ x: 651, y: 424, w: 95, h: 112, r: 12, lineX1: 663, lineX2: 706, textX: 716,
             rowY: [450, 473, 497, 520], fontSize: "16px" },
           ["S1", "S2", "S3", "S4"].map((l, i) => ({ label: l, color: lineColors[i] })));
drawLegend({ x: 659, y: 642, w: 94, h: 110, r: 12, lineX1: 671, lineX2: 714, textX: 724,
             rowY: [667, 691, 714, 737], fontSize: "16px" },
           ["T1", "T2", "T3", "T4"].map((l, i) => ({ label: l, color: lineColors[i] })));

/* year titles */
svg.selectAll(".yearTitle")
  .data(columns)
  .enter()
  .append("text")
  .attr("class", "yearTitle")
  .attr("x", d => d.titleX)
  .attr("y", d => d.titleY)
  .style("font-size", "40px")
  .style("font-weight", "700")
  .attr("fill", "#ff0000")
  .text(d => d.year);

/* highlight box over late May / June 2018 */
svg.append("rect")
  .attr("x", 1931)
  .attr("y", -10)
  .attr("width", 101)
  .attr("height", 1031)
  .attr("fill", "none")
  .attr("stroke", "#ff0000")
  .attr("stroke-width", 8);
</script>
</body>
</html>
